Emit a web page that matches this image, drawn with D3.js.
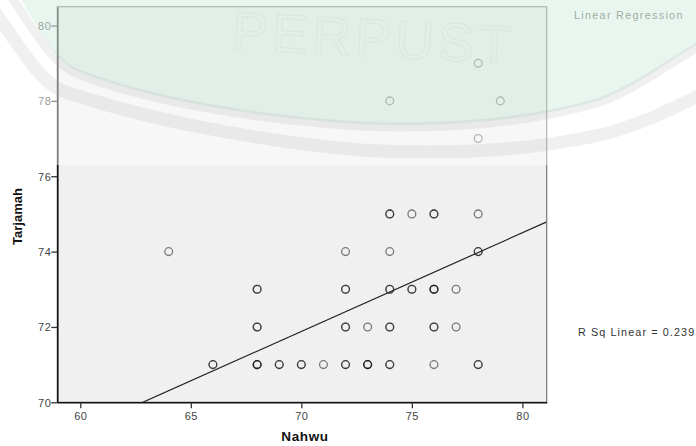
<!DOCTYPE html>
<html>
<head>
<meta charset="utf-8">
<script src="https://cdn.jsdelivr.net/npm/d3@7"></script>
<style>
html,body{margin:0;padding:0;background:#fff;}
svg{display:block;font-family:"Liberation Sans",Arial,sans-serif;}
</style>
</head>
<body>
<svg id="chart" width="696" height="446"></svg>
<script>
// Observations (Nahwu, Tarjamah); repeated pairs are overlapping cases
const nahwu = [
  66,66, 68,68,68, 69,69, 70,70, 71, 72,72, 73,73,73, 74,74, 76, 78,78,
  68,68, 72,72, 73, 74,74, 76,76, 77,
  68,68, 72,72, 74,74, 75,75, 76,76,76, 77,
  64, 72, 74, 78,78,
  74,74, 75, 76,76, 78,
  78, 74, 79, 78
];
const tarjamah = [
  71,71, 71,71,71, 71,71, 71,71, 71, 71,71, 71,71,71, 71,71, 71, 71,71,
  72,72, 72,72, 72, 72,72, 72,72, 72,
  73,73, 73,73, 73,73, 73,73, 73,73,73, 73,
  74, 74, 74, 74,74,
  75,75, 75, 75,75, 75,
  77, 78, 78, 79
];
const xTicks = [60, 65, 70, 75, 80];
const yTicks = [70, 72, 74, 76, 78, 80];
const xDomain = [58.96, 81.1];
const yDomain = [70, 80.5];
// fit line
const fitIntercept = 53.54;
const fitSlope = 0.262;
const rSquared = 0.239;
const xTitle = "Nahwu", yTitle = "Tarjamah";
const legendTitle = "Linear Regression";

const svg = d3.select("#chart");
const L = 57.3, R = 546.7, T = 6.7, B = 402.3;
const x = d3.scaleLinear().domain(xDomain).range([L, R]);
const y = d3.scaleLinear().domain(yDomain).range([B, T]);

// plot background
svg.append("rect").attr("x", L).attr("y", T).attr("width", R - L).attr("height", B - T)
  .attr("fill", "#f0f0f0");

svg.append("clipPath").attr("id", "pc").append("rect")
  .attr("x", L).attr("y", T).attr("width", R - L).attr("height", B - T);

// points
svg.append("g").selectAll("circle").data(nahwu.map((d, i) => [d, tarjamah[i]]))
  .join("circle")
  .attr("cx", d => x(d[0])).attr("cy", d => y(d[1])).attr("r", 3.9)
  .attr("fill", "none").attr("stroke", "#000").attr("stroke-opacity", 0.5)
  .attr("stroke-width", 1.3);

// fit line
svg.append("line").attr("clip-path", "url(#pc)")
  .attr("x1", x(xDomain[0])).attr("y1", y(fitIntercept + fitSlope * xDomain[0]))
  .attr("x2", x(xDomain[1])).attr("y2", y(fitIntercept + fitSlope * xDomain[1]))
  .attr("stroke", "#222").attr("stroke-width", 1.2);

// frame
svg.append("rect").attr("x", L).attr("y", T).attr("width", R - L).attr("height", B - T)
  .attr("fill", "none").attr("stroke", "#777").attr("stroke-width", 1.2);

// axes
const xAxis = svg.append("g").attr("transform", `translate(0,${B})`)
  .call(d3.axisBottom(x).tickValues(xTicks).tickSize(6).tickSizeOuter(0));
const yAxis = svg.append("g").attr("transform", `translate(${L},0)`)
  .call(d3.axisLeft(y).tickValues(yTicks).tickSize(6).tickSizeOuter(0));
[xAxis, yAxis].forEach(a => {
  a.select(".domain").attr("stroke", "#111").attr("stroke-width", 1.6);
  a.selectAll(".tick line").attr("stroke", "#333").attr("stroke-width", 1.3);
  a.selectAll(".tick text").attr("fill", "#444").attr("font-size", 11)
    .attr("letter-spacing", 0.5)
    .attr("font-family", "Liberation Sans, Arial, sans-serif");
});
xAxis.selectAll(".tick text").attr("dy", "0.95em").attr("y", 7);
yAxis.selectAll(".tick text").attr("x", -6).attr("dy", "0.35em");

// titles
svg.append("text").attr("x", (L + R) / 2 + 3).attr("y", 441).attr("text-anchor", "middle")
  .attr("font-weight", "bold").attr("font-size", 13.5).attr("letter-spacing", 0.6)
  .attr("fill", "#111").text(xTitle);
svg.append("text").attr("transform", `translate(22,${(T + B) / 2 + 12}) rotate(-90)`)
  .attr("text-anchor", "middle").attr("font-weight", "bold").attr("font-size", 13)
  .attr("fill", "#111").text(yTitle);

// legend texts
svg.append("text").attr("x", 574).attr("y", 19).attr("font-size", 10.8)
  .attr("letter-spacing", 1.3).attr("fill", "#555").text(legendTitle);
svg.append("text").attr("x", 578).attr("y", 336).attr("font-size", 10.8)
  .attr("letter-spacing", 1.1).attr("fill", "#333").text("R Sq Linear = " + rSquared.toFixed(3));

// watermark overlay (top of the picture)
const wm = svg.append("g");
wm.append("clipPath").attr("id", "wc").append("rect")
  .attr("x", 0).attr("y", 0).attr("width", 696).attr("height", 165);
const wg = wm.append("g").attr("clip-path", "url(#wc)");
wg.append("rect").attr("x", 0).attr("y", 0).attr("width", 696).attr("height", 165)
  .attr("fill", "#fff").attr("opacity", 0.45);
// green tinted shield area
wg.append("path")
  .attr("d", "M18,-5 C45,40 60,65 80,72 C150,100 260,118 360,124 C460,128 540,118 600,100 C640,85 670,60 696,45 L696,-5 Z")
  .attr("fill", "#8fd4ae").attr("opacity", 0.2);
// gray bands
wg.append("path")
  .attr("d", "M10,-5 C40,40 55,65 78,74 C150,102 260,120 360,126 C460,130 540,120 600,102 C640,87 670,62 700,46")
  .attr("fill", "none").attr("stroke", "#999").attr("stroke-opacity", 0.15).attr("stroke-width", 9);
wg.append("path")
  .attr("d", "M-5,12 C25,55 40,80 60,90 C140,118 250,140 360,150 C460,156 540,148 600,135 C640,125 670,110 700,95")
  .attr("fill", "none").attr("stroke", "#999").attr("stroke-opacity", 0.15).attr("stroke-width", 13);
// faint watermark lettering
wg.append("text").attr("x", 232).attr("y", 56).attr("font-size", 54)
  .attr("fill", "none").attr("stroke", "#d0a8a8").attr("stroke-opacity", 0.14)
  .attr("stroke-width", 1.2).attr("transform", "rotate(3,360,40)")
  .attr("letter-spacing", 4).text("PERPUST");
</script>
</body>
</html>
